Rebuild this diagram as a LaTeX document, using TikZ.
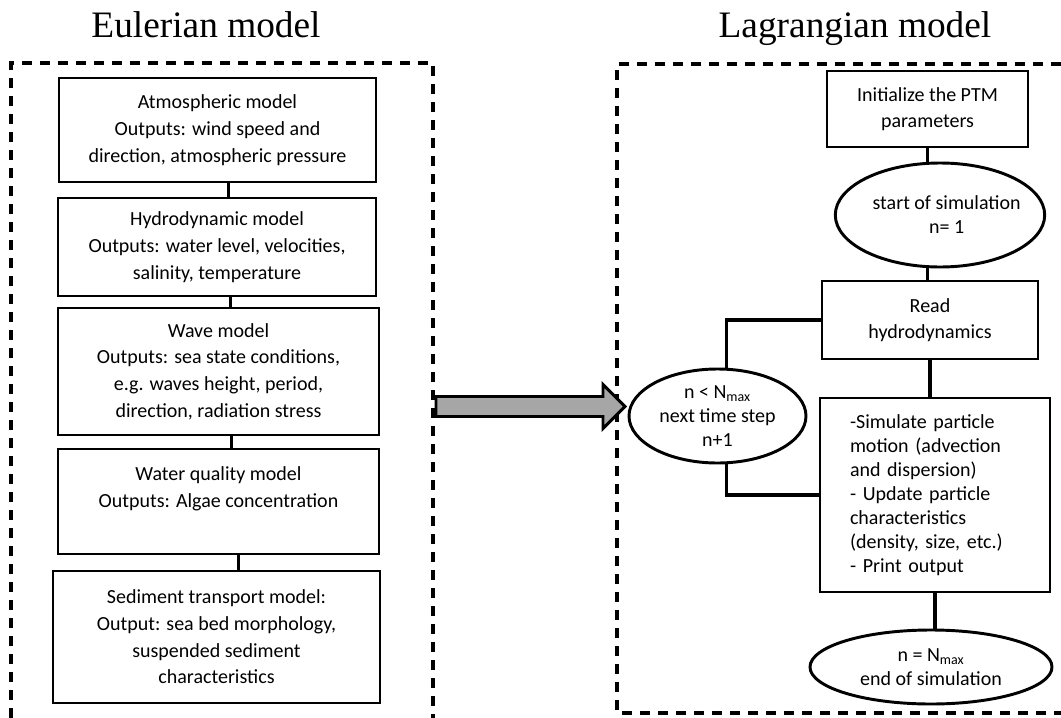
\documentclass[tikz,border=0pt]{standalone}
\usepackage{fontspec}
\setmainfont{Carlito}
\newfontfamily\titlefont{Liberation Serif}
\usetikzlibrary{shapes.geometric,shapes.arrows}
\tikzset{
    model-box/.style = {draw=black, fill=white, line width=2.2pt, rectangle, align=center, inner sep=2pt, font=\fontsize{15}{20}\selectfont},
    oval-box/.style = {draw=black, fill=white, line width=2.2pt, ellipse, align=center, inner sep=0pt, inner ysep=-3pt, font=\fontsize{15}{18}\selectfont},
    link/.style = {draw=black, line width=2.4pt},
    frame-line/.style = {draw=black, line width=2.6pt, dash pattern=on 7.5pt off 6pt},
    model-title/.style = {anchor=base, font=\titlefont\fontsize{28}{30}\selectfont},
    flow-arrow/.style = {single arrow, draw=black, fill=gray!70, line width=2.2pt, inner xsep=0pt, inner ysep=6.4pt, minimum height=141.75pt, single arrow head extend=9pt},
}

\begin{document}
\begin{tikzpicture}[x=0.75pt,y=-0.75pt]
\useasboundingbox (0,0) rectangle (1061,718);

% titles
\node[model-title] (eul-title) at (206,37) {Eulerian model};
\node[model-title] (lag-title) at (855,37) {Lagrangian model};

% dashed frames
\draw[frame-line] (11,718) -- (11,63) -- (433,63) -- (433,718);
\draw[frame-line] (1061,64) -- (617,64) -- (617,713) -- (1061,713);

% Eulerian chain
\node[model-box, minimum width=237.75pt, minimum height=78pt] (atm) at (217.5,130) {Atmospheric model\\Outputs: wind speed and\\direction, atmospheric pressure};
\node[model-box, minimum width=238.5pt, minimum height=73.5pt] (hydro) at (217,247) {Hydrodynamic model\\Outputs: water level, velocities,\\salinity, temperature};
\node[model-box, minimum width=240.75pt, minimum height=95.25pt] (wave) at (218.5,371.5) {Wave model\\Outputs: sea state conditions,\\e.g. waves height, period,\\direction, radiation stress};
\node[model-box, minimum width=240.75pt, minimum height=78.75pt, text depth=22pt] (water) at (218.5,501.5) {Water quality model\\Outputs: Algae concentration};
\node[model-box, minimum width=245.25pt, minimum height=99pt] (sed) at (216.5,637) {Sediment transport model:\\Output: sea bed morphology,\\suspended sediment\\characteristics};

\foreach \a/\b/\dx in {atm/hydro/8, hydro/wave/10, wave/water/10, water/sed/15}
    \draw[link] ([xshift=\dx pt]\a.south) -- ([xshift=\dx pt]\a.south |- \b.north);

% arrow between the models
\node[flow-arrow] (flow) at (525.5,406.5) {};

% Lagrangian chain
\node[model-box, minimum width=150.75pt, minimum height=57pt] (init) at (927.5,109) {Initialize the PTM\\parameters};
\node[oval-box, minimum width=146.25pt, minimum height=78pt, inner xsep=-5pt] (start) at (940,215) {\hspace*{10pt}start of simulation\\\hspace*{10pt}n= 1};
\node[model-box, minimum width=162pt, minimum height=58.5pt] (read) at (930,320) {Read\\hydrodynamics};
\node[oval-box, minimum width=132.75pt, minimum height=70.5pt] (loop) at (717.5,416) {n < N\textsubscript{max}\\next time step\\n+1};
\node[model-box, minimum width=172.5pt, minimum height=145.5pt, text width=127.5pt, align=left, font=\fontsize{15}{18}\selectfont] (sim) at (935,495) {-Simulate particle\\motion (advection\\and dispersion)\\- Update particle\\characteristics\\(density, size, etc.)\\- Print output};
\node[oval-box, minimum width=181.5pt, minimum height=55.5pt] (end) at (931,667) {n = N\textsubscript{max}\\end of simulation};

\draw[link] (init.south) -- (init.south |- start.north);
\draw[link] (init.south |- start.south) -- (init.south |- read.north);
\draw[link] (read.south) -- (read.south |- sim.north);
\draw[link] (sim.south) -- (sim.south |- end.north);
\draw[link] (read.west) -| ([xshift=7pt]loop.north);
\draw[link] ([xshift=7pt]loop.south) |- (sim.west);
\end{tikzpicture}
\end{document}
